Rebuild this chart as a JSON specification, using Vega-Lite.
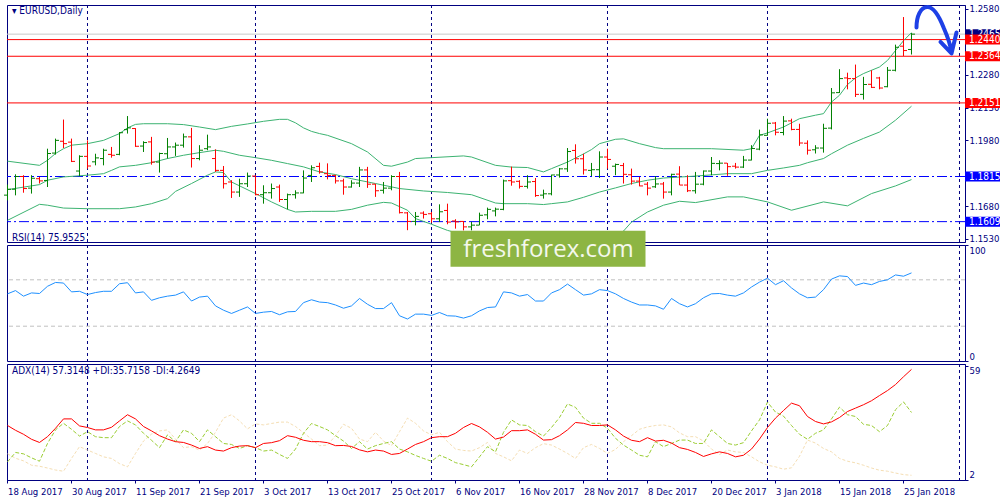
{
"$schema": "https://vega.github.io/schema/vega-lite/v6.json",
"padding": {"left": 3, "top": 3, "right": 2, "bottom": 2},
"background": "white",
"bounds": "flush",
"spacing": 3,
"config": {
 "view": {"stroke": "#000080", "strokeWidth": 1},
 "font": "DejaVu Sans Condensed",
 "axis": {"domainColor": "#000080", "tickColor": "#000080", "labelColor": "#000080", "labelFont": "DejaVu Sans Condensed", "labelFontSize": 9.5, "tickSize": 3, "labelPadding": 1, "grid": false, "labelOverlap": false},
 "title": {"anchor": "start", "frame": "group", "offset": -12, "baseline": "alphabetic", "fontSize": 10, "fontWeight": "normal", "color": "#000080", "font": "DejaVu Sans Condensed", "dx": 5}
},
"datasets": {
 "bars": [
{"d":"2017-08-18","o":1.1730,"h":1.1778,"l":1.1706,"c":1.1757,"rsi":57.9,"adx":29.2,"pdi":11.0,"mdi":15.0},
{"d":"2017-08-21","o":1.1757,"h":1.1825,"l":1.1729,"c":1.1815,"rsi":60.7,"adx":26.8,"pdi":15.7,"mdi":12.8},
{"d":"2017-08-22","o":1.1815,"h":1.1821,"l":1.1741,"c":1.1760,"rsi":55.9,"adx":24.8,"pdi":15.0,"mdi":11.5},
{"d":"2017-08-23","o":1.1762,"h":1.1821,"l":1.1737,"c":1.1807,"rsi":58.7,"adx":22.3,"pdi":13.0,"mdi":9.3},
{"d":"2017-08-24","o":1.1805,"h":1.1813,"l":1.1783,"c":1.1795,"rsi":58.2,"adx":20.7,"pdi":11.3,"mdi":8.8},
{"d":"2017-08-25","o":1.1797,"h":1.1942,"l":1.1767,"c":1.1920,"rsi":64.4,"adx":23.6,"pdi":20.2,"mdi":7.9},
{"d":"2017-08-28","o":1.1922,"h":1.1988,"l":1.1915,"c":1.1980,"rsi":67.7,"adx":27.8,"pdi":27.0,"mdi":6.9},
{"d":"2017-08-29","o":1.1976,"h":1.2075,"l":1.1945,"c":1.1965,"rsi":67.2,"adx":32.5,"pdi":30.3,"mdi":6.3},
{"d":"2017-08-30","o":1.1972,"h":1.1988,"l":1.1881,"c":1.1884,"rsi":59.6,"adx":32.5,"pdi":27.3,"mdi":12.7},
{"d":"2017-08-31","o":1.1840,"h":1.1912,"l":1.1817,"c":1.1907,"rsi":60.1,"adx":29.0,"pdi":23.9,"mdi":18.6},
{"d":"2017-09-01","o":1.1907,"h":1.1980,"l":1.1851,"c":1.1863,"rsi":57.3,"adx":28.2,"pdi":26.1,"mdi":16.9},
{"d":"2017-09-04","o":1.1882,"h":1.1919,"l":1.1866,"c":1.1900,"rsi":59.0,"adx":27.0,"pdi":23.6,"mdi":15.2},
{"d":"2017-09-05","o":1.1897,"h":1.1942,"l":1.1866,"c":1.1935,"rsi":60.1,"adx":27.0,"pdi":23.1,"mdi":13.5},
{"d":"2017-09-06","o":1.1916,"h":1.1950,"l":1.1901,"c":1.1912,"rsi":60.1,"adx":28.3,"pdi":23.1,"mdi":12.7},
{"d":"2017-09-07","o":1.1916,"h":1.2018,"l":1.1912,"c":1.2015,"rsi":66.6,"adx":31.5,"pdi":28.7,"mdi":10.1},
{"d":"2017-09-08","o":1.2029,"h":1.2091,"l":1.2011,"c":1.2037,"rsi":67.5,"adx":34.6,"pdi":31.5,"mdi":8.5},
{"d":"2017-09-11","o":1.2034,"h":1.2036,"l":1.1950,"c":1.1953,"rsi":58.7,"adx":32.5,"pdi":29.5,"mdi":15.2},
{"d":"2017-09-12","o":1.1954,"h":1.1976,"l":1.1927,"c":1.1970,"rsi":59.6,"adx":28.7,"pdi":25.3,"mdi":21.4},
{"d":"2017-09-13","o":1.1973,"h":1.1996,"l":1.1869,"c":1.1881,"rsi":52.3,"adx":26.5,"pdi":21.8,"mdi":24.9},
{"d":"2017-09-14","o":1.1881,"h":1.1924,"l":1.1833,"c":1.1920,"rsi":54.5,"adx":24.1,"pdi":18.1,"mdi":26.5},
{"d":"2017-09-15","o":1.1919,"h":1.1991,"l":1.1897,"c":1.1950,"rsi":55.9,"adx":22.4,"pdi":24.5,"mdi":27.0},
{"d":"2017-09-18","o":1.1950,"h":1.1970,"l":1.1909,"c":1.1958,"rsi":56.8,"adx":21.1,"pdi":21.1,"mdi":22.4},
{"d":"2017-09-19","o":1.1958,"h":1.2011,"l":1.1947,"c":1.1996,"rsi":59.6,"adx":20.7,"pdi":27.0,"mdi":18.1},
{"d":"2017-09-20","o":1.1996,"h":1.2037,"l":1.1856,"c":1.1897,"rsi":51.7,"adx":19.4,"pdi":25.3,"mdi":18.6},
{"d":"2017-09-21","o":1.1897,"h":1.1958,"l":1.1889,"c":1.1935,"rsi":55.1,"adx":17.7,"pdi":21.1,"mdi":16.9},
{"d":"2017-09-22","o":1.1942,"h":1.2006,"l":1.1935,"c":1.1950,"rsi":55.9,"adx":18.6,"pdi":27.0,"mdi":20.2},
{"d":"2017-09-25","o":1.1897,"h":1.1939,"l":1.1836,"c":1.1843,"rsi":47.5,"adx":16.9,"pdi":23.6,"mdi":25.8},
{"d":"2017-09-26","o":1.1843,"h":1.1863,"l":1.1760,"c":1.1782,"rsi":43.8,"adx":16.4,"pdi":20.2,"mdi":32.9},
{"d":"2017-09-27","o":1.1790,"h":1.1798,"l":1.1717,"c":1.1744,"rsi":41.0,"adx":18.1,"pdi":19.7,"mdi":34.6},
{"d":"2017-09-28","o":1.1744,"h":1.1805,"l":1.1722,"c":1.1782,"rsi":43.8,"adx":18.9,"pdi":17.7,"mdi":31.5},
{"d":"2017-09-29","o":1.1782,"h":1.1833,"l":1.1767,"c":1.1817,"rsi":46.6,"adx":19.1,"pdi":19.1,"mdi":27.5},
{"d":"2017-10-02","o":1.1817,"h":1.1821,"l":1.1729,"c":1.1732,"rsi":41.0,"adx":18.1,"pdi":18.1,"mdi":30.0},
{"d":"2017-10-03","o":1.1732,"h":1.1775,"l":1.1691,"c":1.1741,"rsi":42.1,"adx":20.2,"pdi":16.4,"mdi":29.5},
{"d":"2017-10-04","o":1.1741,"h":1.1783,"l":1.1714,"c":1.1760,"rsi":42.7,"adx":20.6,"pdi":16.9,"mdi":30.2},
{"d":"2017-10-05","o":1.1767,"h":1.1778,"l":1.1699,"c":1.1710,"rsi":39.9,"adx":21.6,"pdi":14.7,"mdi":30.9},
{"d":"2017-10-06","o":1.1710,"h":1.1737,"l":1.1665,"c":1.1732,"rsi":42.4,"adx":24.1,"pdi":12.7,"mdi":30.9},
{"d":"2017-10-09","o":1.1732,"h":1.1752,"l":1.1714,"c":1.1740,"rsi":42.7,"adx":23.3,"pdi":17.4,"mdi":28.7},
{"d":"2017-10-10","o":1.1740,"h":1.1843,"l":1.1738,"c":1.1808,"rsi":50.3,"adx":21.8,"pdi":25.3,"mdi":25.6},
{"d":"2017-10-11","o":1.1820,"h":1.1866,"l":1.1790,"c":1.1855,"rsi":52.8,"adx":21.1,"pdi":30.2,"mdi":22.4},
{"d":"2017-10-12","o":1.1861,"h":1.1878,"l":1.1828,"c":1.1836,"rsi":50.8,"adx":21.1,"pdi":28.7,"mdi":19.1},
{"d":"2017-10-13","o":1.1828,"h":1.1875,"l":1.1802,"c":1.1820,"rsi":50.3,"adx":20.6,"pdi":27.0,"mdi":19.4},
{"d":"2017-10-16","o":1.1820,"h":1.1823,"l":1.1783,"c":1.1795,"rsi":48.3,"adx":19.1,"pdi":24.1,"mdi":24.1},
{"d":"2017-10-17","o":1.1795,"h":1.1805,"l":1.1732,"c":1.1767,"rsi":45.5,"adx":19.2,"pdi":21.4,"mdi":29.8},
{"d":"2017-10-18","o":1.1767,"h":1.1798,"l":1.1764,"c":1.1785,"rsi":47.5,"adx":18.7,"pdi":17.7,"mdi":27.8},
{"d":"2017-10-19","o":1.1785,"h":1.1859,"l":1.1767,"c":1.1845,"rsi":53.9,"adx":17.0,"pdi":21.1,"mdi":22.4},
{"d":"2017-10-20","o":1.1845,"h":1.1859,"l":1.1763,"c":1.1780,"rsi":48.9,"adx":16.0,"pdi":17.4,"mdi":21.1},
{"d":"2017-10-23","o":1.1780,"h":1.1782,"l":1.1722,"c":1.1750,"rsi":45.2,"adx":16.9,"pdi":19.1,"mdi":25.8},
{"d":"2017-10-24","o":1.1752,"h":1.1790,"l":1.1737,"c":1.1762,"rsi":45.2,"adx":16.4,"pdi":20.2,"mdi":21.4},
{"d":"2017-10-25","o":1.1762,"h":1.1821,"l":1.1752,"c":1.1815,"rsi":50.3,"adx":14.7,"pdi":21.1,"mdi":19.1},
{"d":"2017-10-26","o":1.1815,"h":1.1836,"l":1.1646,"c":1.1650,"rsi":39.0,"adx":15.2,"pdi":17.4,"mdi":26.1},
{"d":"2017-10-27","o":1.1649,"h":1.1653,"l":1.1570,"c":1.1610,"rsi":36.2,"adx":17.4,"pdi":16.0,"mdi":32.9},
{"d":"2017-10-30","o":1.1610,"h":1.1653,"l":1.1592,"c":1.1633,"rsi":40.4,"adx":19.7,"pdi":14.2,"mdi":30.3},
{"d":"2017-10-31","o":1.1648,"h":1.1656,"l":1.1623,"c":1.1642,"rsi":40.4,"adx":21.1,"pdi":12.7,"mdi":26.5},
{"d":"2017-11-01","o":1.1645,"h":1.1653,"l":1.1604,"c":1.1622,"rsi":39.3,"adx":23.1,"pdi":11.3,"mdi":24.5},
{"d":"2017-11-02","o":1.1622,"h":1.1688,"l":1.1607,"c":1.1654,"rsi":41.8,"adx":23.6,"pdi":14.3,"mdi":25.8},
{"d":"2017-11-03","o":1.1660,"h":1.1691,"l":1.1597,"c":1.1607,"rsi":39.0,"adx":23.6,"pdi":12.7,"mdi":21.1},
{"d":"2017-11-06","o":1.1612,"h":1.1620,"l":1.1577,"c":1.1608,"rsi":38.7,"adx":25.3,"pdi":10.6,"mdi":17.4},
{"d":"2017-11-07","o":1.1610,"h":1.1612,"l":1.1569,"c":1.1585,"rsi":37.0,"adx":28.2,"pdi":9.6,"mdi":16.7},
{"d":"2017-11-08","o":1.1585,"h":1.1608,"l":1.1569,"c":1.1593,"rsi":39.0,"adx":30.2,"pdi":8.5,"mdi":16.4},
{"d":"2017-11-09","o":1.1593,"h":1.1650,"l":1.1592,"c":1.1638,"rsi":43.2,"adx":28.5,"pdi":13.5,"mdi":18.1},
{"d":"2017-11-10","o":1.1640,"h":1.1673,"l":1.1620,"c":1.1665,"rsi":46.1,"adx":25.8,"pdi":18.6,"mdi":20.7},
{"d":"2017-11-13","o":1.1658,"h":1.1673,"l":1.1633,"c":1.1666,"rsi":46.6,"adx":22.4,"pdi":16.0,"mdi":15.2},
{"d":"2017-11-14","o":1.1665,"h":1.1801,"l":1.1661,"c":1.1795,"rsi":59.6,"adx":23.4,"pdi":25.8,"mdi":13.5},
{"d":"2017-11-15","o":1.1796,"h":1.1860,"l":1.1773,"c":1.1790,"rsi":58.7,"adx":26.6,"pdi":32.0,"mdi":11.5},
{"d":"2017-11-16","o":1.1793,"h":1.1798,"l":1.1760,"c":1.1770,"rsi":55.9,"adx":26.6,"pdi":29.5,"mdi":16.9},
{"d":"2017-11-17","o":1.1770,"h":1.1821,"l":1.1760,"c":1.1790,"rsi":57.3,"adx":27.0,"pdi":29.2,"mdi":15.2},
{"d":"2017-11-20","o":1.1792,"h":1.1808,"l":1.1722,"c":1.1728,"rsi":51.7,"adx":24.8,"pdi":26.1,"mdi":18.1},
{"d":"2017-11-21","o":1.1730,"h":1.1755,"l":1.1714,"c":1.1736,"rsi":51.7,"adx":21.9,"pdi":23.9,"mdi":20.1},
{"d":"2017-11-22","o":1.1736,"h":1.1824,"l":1.1729,"c":1.1822,"rsi":58.7,"adx":22.1,"pdi":28.2,"mdi":19.4},
{"d":"2017-11-23","o":1.1822,"h":1.1854,"l":1.1810,"c":1.1850,"rsi":61.5,"adx":24.1,"pdi":33.2,"mdi":17.4},
{"d":"2017-11-24","o":1.1850,"h":1.1945,"l":1.1836,"c":1.1929,"rsi":66.3,"adx":27.0,"pdi":40.0,"mdi":15.2},
{"d":"2017-11-27","o":1.1934,"h":1.1962,"l":1.1874,"c":1.1896,"rsi":61.5,"adx":30.7,"pdi":38.3,"mdi":12.7},
{"d":"2017-11-28","o":1.1896,"h":1.1919,"l":1.1824,"c":1.1845,"rsi":56.8,"adx":30.3,"pdi":32.9,"mdi":18.1},
{"d":"2017-11-29","o":1.1843,"h":1.1877,"l":1.1817,"c":1.1846,"rsi":57.9,"adx":29.2,"pdi":30.3,"mdi":19.7},
{"d":"2017-11-30","o":1.1846,"h":1.1930,"l":1.1808,"c":1.1904,"rsi":61.5,"adx":29.2,"pdi":30.3,"mdi":17.7},
{"d":"2017-12-01","o":1.1904,"h":1.1942,"l":1.1851,"c":1.1893,"rsi":60.7,"adx":29.5,"pdi":27.8,"mdi":15.2},
{"d":"2017-12-04","o":1.1862,"h":1.1874,"l":1.1821,"c":1.1870,"rsi":57.9,"adx":27.0,"pdi":22.8,"mdi":17.2},
{"d":"2017-12-05","o":1.1865,"h":1.1877,"l":1.1783,"c":1.1825,"rsi":53.9,"adx":23.9,"pdi":19.4,"mdi":21.1},
{"d":"2017-12-06","o":1.1823,"h":1.1851,"l":1.1778,"c":1.1794,"rsi":50.8,"adx":21.8,"pdi":16.9,"mdi":24.1},
{"d":"2017-12-07","o":1.1794,"h":1.1813,"l":1.1770,"c":1.1772,"rsi":48.3,"adx":21.1,"pdi":14.3,"mdi":27.3},
{"d":"2017-12-08","o":1.1780,"h":1.1790,"l":1.1729,"c":1.1762,"rsi":48.3,"adx":23.1,"pdi":13.5,"mdi":28.5},
{"d":"2017-12-11","o":1.1768,"h":1.1817,"l":1.1763,"c":1.1781,"rsi":47.5,"adx":21.4,"pdi":21.1,"mdi":29.2},
{"d":"2017-12-12","o":1.1781,"h":1.1790,"l":1.1714,"c":1.1744,"rsi":44.6,"adx":21.8,"pdi":18.6,"mdi":29.5},
{"d":"2017-12-13","o":1.1744,"h":1.1828,"l":1.1729,"c":1.1825,"rsi":53.9,"adx":20.4,"pdi":20.2,"mdi":28.5},
{"d":"2017-12-14","o":1.1826,"h":1.1862,"l":1.1775,"c":1.1776,"rsi":49.4,"adx":18.1,"pdi":21.9,"mdi":25.5},
{"d":"2017-12-15","o":1.1776,"h":1.1821,"l":1.1744,"c":1.1750,"rsi":46.6,"adx":17.2,"pdi":21.9,"mdi":23.6},
{"d":"2017-12-18","o":1.1750,"h":1.1836,"l":1.1737,"c":1.1780,"rsi":49.4,"adx":15.7,"pdi":20.2,"mdi":23.6},
{"d":"2017-12-19","o":1.1780,"h":1.1843,"l":1.1775,"c":1.1840,"rsi":54.5,"adx":13.7,"pdi":20.2,"mdi":21.4},
{"d":"2017-12-20","o":1.1840,"h":1.1904,"l":1.1821,"c":1.1875,"rsi":57.9,"adx":15.0,"pdi":27.0,"mdi":17.4},
{"d":"2017-12-21","o":1.1874,"h":1.1889,"l":1.1843,"c":1.1876,"rsi":58.2,"adx":16.0,"pdi":23.6,"mdi":14.7},
{"d":"2017-12-22","o":1.1876,"h":1.1877,"l":1.1818,"c":1.1860,"rsi":56.8,"adx":15.2,"pdi":20.2,"mdi":16.9},
{"d":"2017-12-26","o":1.1862,"h":1.1877,"l":1.1851,"c":1.1858,"rsi":55.9,"adx":13.5,"pdi":19.4,"mdi":16.0},
{"d":"2017-12-27","o":1.1858,"h":1.1909,"l":1.1854,"c":1.1890,"rsi":58.7,"adx":14.3,"pdi":20.6,"mdi":15.7},
{"d":"2017-12-28","o":1.1890,"h":1.1958,"l":1.1888,"c":1.1943,"rsi":63.8,"adx":17.4,"pdi":26.5,"mdi":13.5},
{"d":"2017-12-29","o":1.1940,"h":1.2029,"l":1.1935,"c":1.2005,"rsi":68.0,"adx":22.4,"pdi":32.0,"mdi":11.0},
{"d":"2018-01-02","o":1.2003,"h":1.2079,"l":1.2001,"c":1.2058,"rsi":71.4,"adx":28.2,"pdi":40.9,"mdi":9.3},
{"d":"2018-01-03","o":1.2059,"h":1.2064,"l":1.2003,"c":1.2017,"rsi":65.8,"adx":32.9,"pdi":35.9,"mdi":8.5},
{"d":"2018-01-04","o":1.2016,"h":1.2091,"l":1.2003,"c":1.2068,"rsi":69.2,"adx":36.7,"pdi":33.9,"mdi":7.3},
{"d":"2018-01-05","o":1.2069,"h":1.2079,"l":1.2026,"c":1.2030,"rsi":63.0,"adx":40.4,"pdi":29.2,"mdi":8.0},
{"d":"2018-01-08","o":1.2030,"h":1.2056,"l":1.1955,"c":1.1968,"rsi":57.9,"adx":39.1,"pdi":24.8,"mdi":13.8},
{"d":"2018-01-09","o":1.1967,"h":1.1980,"l":1.1915,"c":1.1935,"rsi":54.5,"adx":33.7,"pdi":22.3,"mdi":21.9},
{"d":"2018-01-10","o":1.1937,"h":1.1958,"l":1.1920,"c":1.1945,"rsi":55.1,"adx":31.2,"pdi":25.3,"mdi":20.4},
{"d":"2018-01-11","o":1.1945,"h":1.2056,"l":1.1924,"c":1.2035,"rsi":61.5,"adx":30.0,"pdi":27.0,"mdi":17.7},
{"d":"2018-01-12","o":1.2036,"h":1.2219,"l":1.2030,"c":1.2197,"rsi":70.6,"adx":31.0,"pdi":32.5,"mdi":16.0},
{"d":"2018-01-15","o":1.2198,"h":1.2305,"l":1.2196,"c":1.2262,"rsi":73.4,"adx":33.2,"pdi":38.4,"mdi":12.7},
{"d":"2018-01-16","o":1.2265,"h":1.2289,"l":1.2213,"c":1.2262,"rsi":72.8,"adx":36.2,"pdi":34.6,"mdi":11.3},
{"d":"2018-01-17","o":1.2262,"h":1.2326,"l":1.2178,"c":1.2190,"rsi":65.2,"adx":37.9,"pdi":33.7,"mdi":10.5},
{"d":"2018-01-18","o":1.2190,"h":1.2270,"l":1.2166,"c":1.2235,"rsi":67.2,"adx":39.6,"pdi":29.8,"mdi":9.3},
{"d":"2018-01-19","o":1.2236,"h":1.2300,"l":1.2219,"c":1.2222,"rsi":65.8,"adx":41.6,"pdi":29.2,"mdi":7.9},
{"d":"2018-01-22","o":1.2265,"h":1.2270,"l":1.2213,"c":1.2219,"rsi":68.6,"adx":44.2,"pdi":26.1,"mdi":6.8},
{"d":"2018-01-23","o":1.2225,"h":1.2315,"l":1.2222,"c":1.2300,"rsi":70.0,"adx":46.7,"pdi":29.2,"mdi":6.3},
{"d":"2018-01-24","o":1.2300,"h":1.2417,"l":1.2295,"c":1.2405,"rsi":74.2,"adx":49.7,"pdi":37.1,"mdi":5.4},
{"d":"2018-01-25","o":1.2410,"h":1.2543,"l":1.2365,"c":1.2390,"rsi":73.1,"adx":53.6,"pdi":41.0,"mdi":4.6},
{"d":"2018-01-26","o":1.2395,"h":1.2470,"l":1.2372,"c":1.2465,"rsi":75.95,"adx":57.31,"pdi":35.72,"mdi":4.26}
 ],
 "bb": [
{"d":"2017-08-18","b":"up","v":1.1885},{"d":"2017-08-24","b":"up","v":1.1866},{"d":"2017-08-25","b":"up","v":1.1889},{"d":"2017-08-28","b":"up","v":1.1920},{"d":"2017-08-29","b":"up","v":1.1942},{"d":"2017-08-30","b":"up","v":1.1958},{"d":"2017-09-01","b":"up","v":1.1965},{"d":"2017-09-05","b":"up","v":1.1980},{"d":"2017-09-07","b":"up","v":1.2011},{"d":"2017-09-08","b":"up","v":1.2037},{"d":"2017-09-11","b":"up","v":1.2053},{"d":"2017-09-12","b":"up","v":1.2056},{"d":"2017-09-15","b":"up","v":1.2056},{"d":"2017-09-19","b":"up","v":1.2052},{"d":"2017-09-21","b":"up","v":1.2041},{"d":"2017-09-25","b":"up","v":1.2029},{"d":"2017-09-27","b":"up","v":1.2044},{"d":"2017-09-29","b":"up","v":1.2055},{"d":"2017-10-03","b":"up","v":1.2067},{"d":"2017-10-05","b":"up","v":1.2076},{"d":"2017-10-06","b":"up","v":1.2076},{"d":"2017-10-09","b":"up","v":1.2060},{"d":"2017-10-10","b":"up","v":1.2037},{"d":"2017-10-11","b":"up","v":1.2021},{"d":"2017-10-12","b":"up","v":1.2011},{"d":"2017-10-13","b":"up","v":1.2003},{"d":"2017-10-18","b":"up","v":1.1965},{"d":"2017-10-20","b":"up","v":1.1927},{"d":"2017-10-24","b":"up","v":1.1866},{"d":"2017-10-25","b":"up","v":1.1862},{"d":"2017-10-27","b":"up","v":1.1881},{"d":"2017-10-30","b":"up","v":1.1897},{"d":"2017-11-01","b":"up","v":1.1901},{"d":"2017-11-07","b":"up","v":1.1909},{"d":"2017-11-08","b":"up","v":1.1904},{"d":"2017-11-13","b":"up","v":1.1866},{"d":"2017-11-15","b":"up","v":1.1858},{"d":"2017-11-17","b":"up","v":1.1856},{"d":"2017-11-21","b":"up","v":1.1836},{"d":"2017-11-22","b":"up","v":1.1851},{"d":"2017-11-24","b":"up","v":1.1881},{"d":"2017-11-28","b":"up","v":1.1918},{"d":"2017-11-29","b":"up","v":1.1938},{"d":"2017-11-30","b":"up","v":1.1965},{"d":"2017-12-04","b":"up","v":1.1985},{"d":"2017-12-05","b":"up","v":1.1987},{"d":"2017-12-07","b":"up","v":1.1965},{"d":"2017-12-11","b":"up","v":1.1947},{"d":"2017-12-12","b":"up","v":1.1942},{"d":"2017-12-20","b":"up","v":1.1942},{"d":"2017-12-27","b":"up","v":1.1935},{"d":"2017-12-28","b":"up","v":1.1942},{"d":"2017-12-29","b":"up","v":1.2003},{"d":"2018-01-02","b":"up","v":1.2014},{"d":"2018-01-04","b":"up","v":1.2041},{"d":"2018-01-08","b":"up","v":1.2079},{"d":"2018-01-10","b":"up","v":1.2095},{"d":"2018-01-11","b":"up","v":1.2102},{"d":"2018-01-12","b":"up","v":1.2155},{"d":"2018-01-15","b":"up","v":1.2186},{"d":"2018-01-16","b":"up","v":1.2235},{"d":"2018-01-17","b":"up","v":1.2265},{"d":"2018-01-18","b":"up","v":1.2285},{"d":"2018-01-22","b":"up","v":1.2315},{"d":"2018-01-23","b":"up","v":1.2345},{"d":"2018-01-24","b":"up","v":1.2390},{"d":"2018-01-25","b":"up","v":1.2435},{"d":"2018-01-26","b":"up","v":1.2472},
{"d":"2017-08-18","b":"mid","v":1.1755},{"d":"2017-08-24","b":"mid","v":1.1778},{"d":"2017-08-25","b":"mid","v":1.1798},{"d":"2017-08-29","b":"mid","v":1.1813},{"d":"2017-09-01","b":"mid","v":1.1821},{"d":"2017-09-05","b":"mid","v":1.1828},{"d":"2017-09-06","b":"mid","v":1.1843},{"d":"2017-09-07","b":"mid","v":1.1859},{"d":"2017-09-11","b":"mid","v":1.1866},{"d":"2017-09-13","b":"mid","v":1.1878},{"d":"2017-09-15","b":"mid","v":1.1897},{"d":"2017-09-19","b":"mid","v":1.1912},{"d":"2017-09-21","b":"mid","v":1.1924},{"d":"2017-09-25","b":"mid","v":1.1935},{"d":"2017-09-26","b":"mid","v":1.1930},{"d":"2017-09-28","b":"mid","v":1.1912},{"d":"2017-10-02","b":"mid","v":1.1901},{"d":"2017-10-04","b":"mid","v":1.1889},{"d":"2017-10-06","b":"mid","v":1.1874},{"d":"2017-10-10","b":"mid","v":1.1859},{"d":"2017-10-12","b":"mid","v":1.1836},{"d":"2017-10-16","b":"mid","v":1.1824},{"d":"2017-10-18","b":"mid","v":1.1805},{"d":"2017-10-23","b":"mid","v":1.1783},{"d":"2017-10-26","b":"mid","v":1.1760},{"d":"2017-10-31","b":"mid","v":1.1749},{"d":"2017-11-03","b":"mid","v":1.1742},{"d":"2017-11-08","b":"mid","v":1.1732},{"d":"2017-11-13","b":"mid","v":1.1694},{"d":"2017-11-14","b":"mid","v":1.1691},{"d":"2017-11-17","b":"mid","v":1.1691},{"d":"2017-11-21","b":"mid","v":1.1687},{"d":"2017-11-22","b":"mid","v":1.1691},{"d":"2017-11-24","b":"mid","v":1.1699},{"d":"2017-11-28","b":"mid","v":1.1720},{"d":"2017-11-30","b":"mid","v":1.1744},{"d":"2017-12-04","b":"mid","v":1.1763},{"d":"2017-12-06","b":"mid","v":1.1783},{"d":"2017-12-08","b":"mid","v":1.1798},{"d":"2017-12-12","b":"mid","v":1.1808},{"d":"2017-12-18","b":"mid","v":1.1817},{"d":"2017-12-22","b":"mid","v":1.1828},{"d":"2017-12-28","b":"mid","v":1.1828},{"d":"2018-01-02","b":"mid","v":1.1843},{"d":"2018-01-04","b":"mid","v":1.1854},{"d":"2018-01-08","b":"mid","v":1.1866},{"d":"2018-01-09","b":"mid","v":1.1878},{"d":"2018-01-11","b":"mid","v":1.1897},{"d":"2018-01-12","b":"mid","v":1.1919},{"d":"2018-01-16","b":"mid","v":1.1958},{"d":"2018-01-18","b":"mid","v":1.1989},{"d":"2018-01-22","b":"mid","v":1.2018},{"d":"2018-01-24","b":"mid","v":1.2072},{"d":"2018-01-26","b":"mid","v":1.2136},
{"d":"2017-08-18","b":"lo","v":1.1615},{"d":"2017-08-24","b":"lo","v":1.1688},{"d":"2017-08-25","b":"lo","v":1.1684},{"d":"2017-08-29","b":"lo","v":1.1671},{"d":"2017-09-01","b":"lo","v":1.1668},{"d":"2017-09-07","b":"lo","v":1.1668},{"d":"2017-09-11","b":"lo","v":1.1676},{"d":"2017-09-13","b":"lo","v":1.1691},{"d":"2017-09-15","b":"lo","v":1.1714},{"d":"2017-09-18","b":"lo","v":1.1747},{"d":"2017-09-20","b":"lo","v":1.1783},{"d":"2017-09-22","b":"lo","v":1.1821},{"d":"2017-09-25","b":"lo","v":1.1836},{"d":"2017-09-26","b":"lo","v":1.1833},{"d":"2017-09-27","b":"lo","v":1.1790},{"d":"2017-10-02","b":"lo","v":1.1737},{"d":"2017-10-04","b":"lo","v":1.1699},{"d":"2017-10-06","b":"lo","v":1.1665},{"d":"2017-10-09","b":"lo","v":1.1653},{"d":"2017-10-11","b":"lo","v":1.1656},{"d":"2017-10-16","b":"lo","v":1.1656},{"d":"2017-10-18","b":"lo","v":1.1665},{"d":"2017-10-20","b":"lo","v":1.1684},{"d":"2017-10-24","b":"lo","v":1.1697},{"d":"2017-10-25","b":"lo","v":1.1694},{"d":"2017-10-27","b":"lo","v":1.1661},{"d":"2017-10-30","b":"lo","v":1.1623},{"d":"2017-11-01","b":"lo","v":1.1597},{"d":"2017-11-03","b":"lo","v":1.1569},{"d":"2017-11-08","b":"lo","v":1.1540},{"d":"2017-11-13","b":"lo","v":1.1522},{"d":"2017-11-15","b":"lo","v":1.1522},{"d":"2017-11-17","b":"lo","v":1.1526},{"d":"2017-11-21","b":"lo","v":1.1538},{"d":"2017-11-22","b":"lo","v":1.1531},{"d":"2017-11-24","b":"lo","v":1.1517},{"d":"2017-11-28","b":"lo","v":1.1517},{"d":"2017-11-30","b":"lo","v":1.1523},{"d":"2017-12-04","b":"lo","v":1.1541},{"d":"2017-12-05","b":"lo","v":1.1566},{"d":"2017-12-06","b":"lo","v":1.1607},{"d":"2017-12-08","b":"lo","v":1.1653},{"d":"2017-12-12","b":"lo","v":1.1684},{"d":"2017-12-14","b":"lo","v":1.1702},{"d":"2017-12-18","b":"lo","v":1.1696},{"d":"2017-12-22","b":"lo","v":1.1722},{"d":"2017-12-27","b":"lo","v":1.1722},{"d":"2018-01-02","b":"lo","v":1.1699},{"d":"2018-01-05","b":"lo","v":1.1661},{"d":"2018-01-11","b":"lo","v":1.1699},{"d":"2018-01-16","b":"lo","v":1.1681},{"d":"2018-01-19","b":"lo","v":1.1737},{"d":"2018-01-24","b":"lo","v":1.1772},{"d":"2018-01-26","b":"lo","v":1.1801}
 ],
 "seps": [{"d":"2017-09-01"},{"d":"2017-10-02"},{"d":"2017-11-01"},{"d":"2017-12-01"},{"d":"2018-01-02"},{"d":"2018-02-05"}],
 "levels": [{"p":1.2440,"k":"res"},{"p":1.2364,"k":"res"},{"p":1.2151,"k":"res"},{"p":1.1815,"k":"sup"},{"p":1.1609,"k":"sup"}],
 "bid": [{"p":1.2465}],
 "rsilev": [{"v":70},{"v":30}],
 "logo": [{"d":"2017-11-21","v":96.8,"t":"freshforex.com"}],
 "arrow": [{"d":"2018-01-31","p":1.25}]
},
"resolve": {"scale": {"x": "shared"}},
"vconcat": [
 {
  "width": 958, "height": 237,
  "title": {"text": "▾ EURUSD,Daily"},
  "layer": [
   {"data": {"name": "seps"}, "mark": {"type": "rule", "stroke": "#000080", "strokeDash": [3,3], "strokeWidth": 1},
    "encoding": {"x": {"field": "d", "type": "ordinal", "axis": null, "scale": {"type": "point", "padding": 0.375, "align": 0.0833, "domain": ["2017-08-18","2017-08-21","2017-08-22","2017-08-23","2017-08-24","2017-08-25","2017-08-28","2017-08-29","2017-08-30","2017-08-31","2017-09-01","2017-09-04","2017-09-05","2017-09-06","2017-09-07","2017-09-08","2017-09-11","2017-09-12","2017-09-13","2017-09-14","2017-09-15","2017-09-18","2017-09-19","2017-09-20","2017-09-21","2017-09-22","2017-09-25","2017-09-26","2017-09-27","2017-09-28","2017-09-29","2017-10-02","2017-10-03","2017-10-04","2017-10-05","2017-10-06","2017-10-09","2017-10-10","2017-10-11","2017-10-12","2017-10-13","2017-10-16","2017-10-17","2017-10-18","2017-10-19","2017-10-20","2017-10-23","2017-10-24","2017-10-25","2017-10-26","2017-10-27","2017-10-30","2017-10-31","2017-11-01","2017-11-02","2017-11-03","2017-11-06","2017-11-07","2017-11-08","2017-11-09","2017-11-10","2017-11-13","2017-11-14","2017-11-15","2017-11-16","2017-11-17","2017-11-20","2017-11-21","2017-11-22","2017-11-23","2017-11-24","2017-11-27","2017-11-28","2017-11-29","2017-11-30","2017-12-01","2017-12-04","2017-12-05","2017-12-06","2017-12-07","2017-12-08","2017-12-11","2017-12-12","2017-12-13","2017-12-14","2017-12-15","2017-12-18","2017-12-19","2017-12-20","2017-12-21","2017-12-22","2017-12-26","2017-12-27","2017-12-28","2017-12-29","2018-01-02","2018-01-03","2018-01-04","2018-01-05","2018-01-08","2018-01-09","2018-01-10","2018-01-11","2018-01-12","2018-01-15","2018-01-16","2018-01-17","2018-01-18","2018-01-19","2018-01-22","2018-01-23","2018-01-24","2018-01-25","2018-01-26","2018-01-29","2018-01-30","2018-01-31","2018-02-01","2018-02-02","2018-02-05"]}}}},
   {"data": {"name": "bid"}, "mark": {"type": "rule", "stroke": "#c8c8c8", "strokeWidth": 1},
    "encoding": {"y": {"field": "p", "type": "quantitative", "title": null, "scale": {"domain": [1.1516, 1.2598], "nice": false, "zero": false},
      "axis": {"orient": "right", "values": [1.153, 1.168, 1.198, 1.213, 1.228, 1.258], "format": ".4f", "title": null}}}},
   {"data": {"name": "levels"}, "mark": {"type": "rule", "strokeWidth": 1},
    "encoding": {"y": {"field": "p", "type": "quantitative", "title": null},
      "stroke": {"field": "k", "type": "nominal", "scale": {"domain": ["res","sup"], "range": ["#ff0000","#0000ff"]}, "legend": null},
      "strokeDash": {"field": "k", "type": "nominal", "scale": {"domain": ["res","sup"], "range": [[1,0],[10,3,2,3]]}, "legend": null}}},
   {"data": {"name": "bb"}, "mark": {"type": "line", "strokeWidth": 1, "color": "#3cb371", "clip": true},
    "encoding": {"x": {"field": "d", "type": "ordinal", "axis": null}, "y": {"field": "v", "type": "quantitative", "title": null}, "detail": {"field": "b"}}},
   {"data": {"name": "bars"}, "mark": {"type": "rule", "strokeWidth": 1},
    "encoding": {"x": {"field": "d", "type": "ordinal", "axis": null}, "y": {"field": "l", "type": "quantitative", "title": null}, "y2": {"field": "h"},
      "color": {"condition": {"test": "datum.c >= datum.o", "value": "#008000"}, "value": "#ff0000"}}},
   {"data": {"name": "bars"}, "mark": {"type": "tick", "orient": "horizontal", "size": 3, "thickness": 1, "xOffset": -2, "opacity": 1},
    "encoding": {"x": {"field": "d", "type": "ordinal", "axis": null}, "y": {"field": "o", "type": "quantitative", "title": null},
      "color": {"condition": {"test": "datum.c >= datum.o", "value": "#008000"}, "value": "#ff0000"}}},
   {"data": {"name": "bars"}, "mark": {"type": "tick", "orient": "horizontal", "size": 3, "thickness": 1, "xOffset": 2, "opacity": 1},
    "encoding": {"x": {"field": "d", "type": "ordinal", "axis": null}, "y": {"field": "c", "type": "quantitative", "title": null},
      "color": {"condition": {"test": "datum.c >= datum.o", "value": "#008000"}, "value": "#ff0000"}}},
   {"data": {"name": "bid"}, "mark": {"type": "point", "shape": "M5.5,-5H44.5V5H5.5Z", "size": 4, "filled": true, "opacity": 1, "strokeWidth": 0, "color": "#000080"},
    "encoding": {"x": {"datum": "2018-02-05", "type": "ordinal", "axis": null}, "y": {"field": "p", "type": "quantitative", "title": null}}},
   {"data": {"name": "bid"}, "mark": {"type": "text", "align": "left", "baseline": "middle", "dx": 9.5, "color": "white", "fontSize": 10, "font": "DejaVu Sans Condensed"},
    "encoding": {"x": {"datum": "2018-02-05", "type": "ordinal", "axis": null}, "y": {"field": "p", "type": "quantitative", "title": null}, "text": {"field": "p", "type": "quantitative", "format": ".4f"}}},
   {"data": {"name": "levels"}, "mark": {"type": "point", "shape": "M5.5,-5H44.5V5H5.5Z", "size": 4, "filled": true, "opacity": 1, "strokeWidth": 0},
    "encoding": {"x": {"datum": "2018-02-05", "type": "ordinal", "axis": null}, "y": {"field": "p", "type": "quantitative", "title": null},
      "fill": {"field": "k", "type": "nominal", "scale": {"domain": ["res","sup"], "range": ["#ff0000","#0000ff"]}, "legend": null}}},
   {"data": {"name": "levels"}, "mark": {"type": "text", "align": "left", "baseline": "middle", "dx": 9.5, "color": "white", "fontSize": 10, "font": "DejaVu Sans Condensed"},
    "encoding": {"x": {"datum": "2018-02-05", "type": "ordinal", "axis": null}, "y": {"field": "p", "type": "quantitative", "title": null}, "text": {"field": "p", "type": "quantitative", "format": ".4f"}}},
   {"data": {"name": "arrow"}, "mark": {"type": "point", "shape": "M-19,1 C-19,-10 -15,-19.5 -8,-19.5 C-3,-19.5 3,-12 8.5,2 C12,10 15,18 16,26 M5,15.5 L16,27 L21,6", "size": 4, "filled": false, "opacity": 1, "color": "#1e40e6", "strokeWidth": 4, "strokeCap": "round", "strokeJoin": "round"},
    "encoding": {"x": {"field": "d", "type": "ordinal", "axis": null}, "y": {"field": "p", "type": "quantitative", "title": null}}}
  ]
 },
 {
  "width": 958, "height": 116,
  "title": {"text": "RSI(14) 75.9525"},
  "layer": [
   {"data": {"name": "seps"}, "mark": {"type": "rule", "stroke": "#000080", "strokeDash": [3,3], "strokeWidth": 1},
    "encoding": {"x": {"field": "d", "type": "ordinal", "axis": null}}},
   {"data": {"name": "rsilev"}, "mark": {"type": "rule", "stroke": "#c0c0c0", "strokeDash": [4,3], "strokeWidth": 1},
    "encoding": {"y": {"field": "v", "type": "quantitative", "title": null, "scale": {"domain": [0, 100], "nice": false},
      "axis": {"orient": "right", "values": [0, 30, 70, 100], "labelFlush": true, "format": "d", "title": null}}}},
   {"data": {"name": "bars"}, "mark": {"type": "line", "strokeWidth": 1, "color": "#1e90ff"},
    "encoding": {"x": {"field": "d", "type": "ordinal", "axis": null}, "y": {"field": "rsi", "type": "quantitative", "title": null}}},
   {"data": {"name": "logo"}, "mark": {"type": "point", "shape": "M-93,-18H102V18H-93Z", "size": 4, "filled": true, "opacity": 1, "strokeWidth": 0, "color": "#8db543"},
    "encoding": {"x": {"field": "d", "type": "ordinal", "axis": null}, "y": {"field": "v", "type": "quantitative", "title": null}}},
   {"data": {"name": "logo"}, "mark": {"type": "text", "align": "center", "baseline": "alphabetic", "dx": 5, "dy": 8.6, "color": "#f4f8ec", "fontSize": 24, "font": "Open Sans"},
    "encoding": {"x": {"field": "d", "type": "ordinal", "axis": null}, "y": {"field": "v", "type": "quantitative", "title": null}, "text": {"field": "t"}}}
  ]
 },
 {
  "width": 958, "height": 116,
  "title": {"text": "ADX(14) 57.3148 +DI:35.7158 -DI:4.2649"},
  "layer": [
   {"data": {"name": "seps"}, "mark": {"type": "rule", "stroke": "#000080", "strokeDash": [3,3], "strokeWidth": 1},
    "encoding": {"x": {"field": "d", "type": "ordinal", "title": null,
      "axis": {"orient": "bottom", "title": null, "values": ["2017-08-18","2017-08-30","2017-09-11","2017-09-21","2017-10-03","2017-10-13","2017-10-25","2017-11-06","2017-11-16","2017-11-28","2017-12-08","2017-12-20","2018-01-03","2018-01-15","2018-01-25"],
        "labelExpr": "utcFormat(toDate(datum.value), '%-d %b %Y')", "labelAlign": "left", "labelAngle": 0, "labelPadding": 3, "labelDx": 1}}}},
   {"data": {"name": "bars"}, "mark": {"type": "line", "strokeWidth": 1, "color": "#f5deb3", "strokeDash": [3,2]},
    "encoding": {"x": {"field": "d", "type": "ordinal"}, "y": {"field": "mdi", "type": "quantitative", "title": null, "scale": {"domain": [1.9, 60], "nice": false, "zero": false},
      "axis": {"orient": "right", "values": [2, 59], "labelFlush": 5, "format": "d", "title": null}}}},
   {"data": {"name": "bars"}, "mark": {"type": "line", "strokeWidth": 1, "color": "#9acd32", "strokeDash": [4,2]},
    "encoding": {"x": {"field": "d", "type": "ordinal"}, "y": {"field": "pdi", "type": "quantitative", "title": null}}},
   {"data": {"name": "bars"}, "mark": {"type": "line", "strokeWidth": 1, "color": "#ff0000"},
    "encoding": {"x": {"field": "d", "type": "ordinal"}, "y": {"field": "adx", "type": "quantitative", "title": null}}}
  ]
 }
]
}
